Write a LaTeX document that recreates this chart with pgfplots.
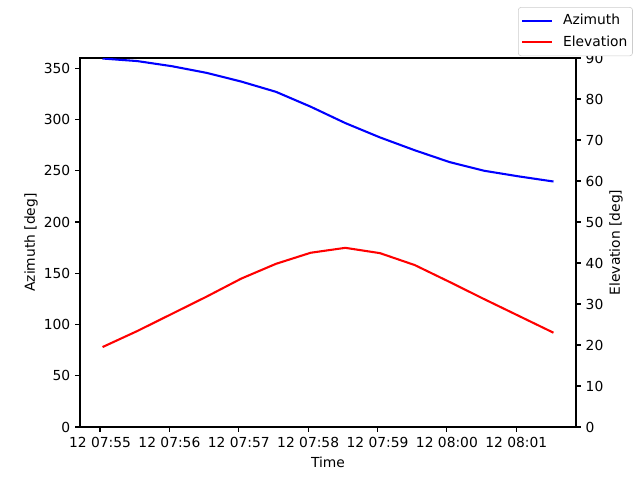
\documentclass[border=0pt]{standalone}
\usepackage{pgfplots}
\pgfplotsset{compat=1.18}
\usepackage{fontspec}
\setmainfont{DejaVu Sans}
\setsansfont{DejaVu Sans}

% minutes after 07:55, azimuth and elevation in degrees
\begin{document}
\begin{tikzpicture}
\useasboundingbox (0,0) rectangle (460.8bp,345.6bp);
\pgfplotsset{
  every axis/.append style={
    at={(57.6bp,38.16bp)}, anchor=south west,
    scale only axis, width=357.12bp, height=265.68bp,
    xmin=-0.289, xmax=6.861,
    font=\fontsize{10}{12}\selectfont,
    tick label style={font=\fontsize{10}{12}\selectfont},
    /pgf/number format/assume math mode=true,
    tick align=outside, major tick length=3.5pt,
    every tick/.style={black, line width=0.8pt},
    axis line style={line width=0.8pt},
    every axis plot/.append style={line width=1.5pt},
    ylabel shift=-2.5pt,
  },
}
\begin{axis}[
  ymin=0, ymax=360,
  ytick={0,50,...,350},
  xtick={0,1,...,6},
  xticklabels={12 07:55,12 07:56,12 07:57,12 07:58,12 07:59,12 08:00,12 08:01},
  xtick pos=bottom, ytick pos=left,
  xlabel={Time}, ylabel={Azimuth [deg]},
]
\addplot[blue, mark=none] coordinates {
  (0.036,359.5) (0.536,357) (1.036,352) (1.536,345.5) (2.036,337)
  (2.536,327) (3.036,312.5) (3.536,296.5) (4.036,282.5) (4.536,270)
  (5.036,258.5) (5.536,250) (6.036,244.5) (6.536,239.5)
};
\end{axis}
\begin{axis}[
  ymin=0, ymax=90,
  ytick={0,10,...,90},
  axis x line=none, axis y line*=right,
  ylabel={Elevation [deg]},
  legend style={at={(1.1145,1.138)}, anchor=north east,
    draw=black!20, rounded corners=2pt, inner xsep=2.2pt, inner ysep=2.2pt,
    row sep=0pt, column sep=5.5bp,
    nodes={inner xsep=1.5pt, inner ysep=2pt, text height=8.5pt, text depth=2.8pt},
    font=\fontsize{10}{12}\selectfont},
  legend cell align=left,
  legend image code/.code={\draw[#1] (0pt,0pt) -- (21.6bp,0pt);},
]
\addlegendimage{blue, line width=1.5pt}
\addlegendentry{Azimuth}
\addplot[red, mark=none] coordinates {
  (0.036,19.5) (0.536,23.4) (1.036,27.6) (1.536,31.8) (2.036,36.2)
  (2.536,39.8) (3.036,42.5) (3.536,43.7) (4.036,42.4) (4.536,39.5)
  (5.036,35.4) (5.536,31.2) (6.036,27.1) (6.536,23.0)
};
\addlegendentry{Elevation}
\end{axis}
\end{tikzpicture}
\end{document}
